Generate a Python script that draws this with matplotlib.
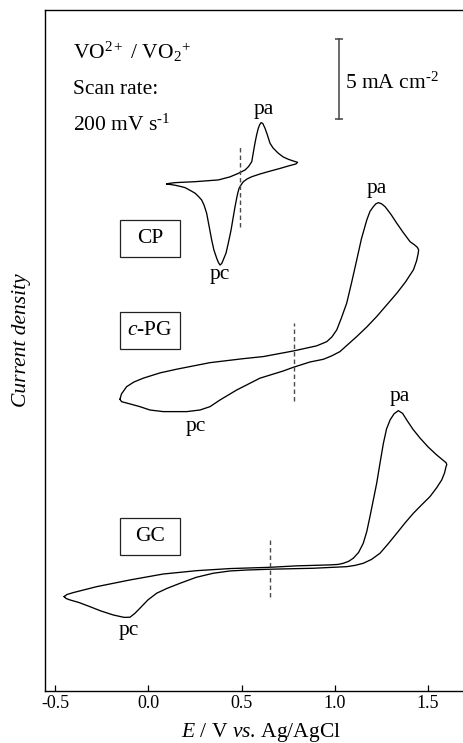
import numpy as np
import matplotlib
matplotlib.use("Agg")
import matplotlib.pyplot as plt
from matplotlib.patches import Rectangle

plt.rcParams["font.family"] = ["Liberation Serif", "DejaVu Serif"]
plt.rcParams["mathtext.fontset"] = "custom"
plt.rcParams["mathtext.rm"] = "Liberation Serif"
plt.rcParams["mathtext.it"] = "Liberation Serif:italic"
plt.rcParams["axes.unicode_minus"] = False

# ---- cyclic voltammograms (E in V vs Ag/AgCl, j in mA cm^-2) ----
# carbon paper (CP)
cp_E = [0.099, 0.116, 0.143, 0.251, 0.376, 0.438, 0.481, 0.519, 0.538, 0.555,
        0.563, 0.572, 0.581, 0.590, 0.597, 0.605, 0.614, 0.626, 0.637, 0.653,
        0.669, 0.697, 0.723, 0.751, 0.776, 0.801,
        0.792, 0.751, 0.707, 0.644, 0.599, 0.555, 0.530, 0.510, 0.497, 0.487,
        0.480, 0.474, 0.465, 0.456, 0.444, 0.429, 0.417, 0.402, 0.394, 0.385,
        0.376, 0.367, 0.352, 0.340, 0.326, 0.313, 0.299, 0.286, 0.269, 0.251,
        0.224, 0.197, 0.170, 0.143, 0.116, 0.099]
cp_j = [-0.06, -0.02, 0.02, 0.08, 0.19, 0.38, 0.59, 0.81, 1.03, 1.33,
        1.88, 2.48, 3.00, 3.42, 3.63, 3.77, 3.72, 3.42, 3.06, 2.48,
        2.19, 1.86, 1.63, 1.48, 1.38, 1.29,
        1.19, 1.06, 0.91, 0.71, 0.56, 0.39, 0.25, 0.08, -0.13, -0.33,
        -0.63, -0.96, -1.50, -2.11, -2.94, -3.77, -4.38, -4.81, -5.03, -5.13,
        -4.97, -4.71, -4.19, -3.56, -2.69, -1.89, -1.38, -1.06, -0.84, -0.64,
        -0.46, -0.29, -0.21, -0.14, -0.09, -0.06]

# compressed pyrolytic graphite (c-PG)
pg_E = [-0.152, -0.144, -0.116, -0.077, -0.027, 0.063, 0.152, 0.331, 0.510, 0.617,
        0.778, 0.903, 0.957, 0.985, 1.011, 1.036, 1.064, 1.090, 1.118, 1.143,
        1.172, 1.189, 1.207, 1.220, 1.234, 1.251, 1.270, 1.302, 1.333, 1.367,
        1.404, 1.428, 1.443, 1.450,
        1.448, 1.439, 1.422, 1.380, 1.333, 1.279, 1.225, 1.172, 1.118, 1.071,
        1.028, 0.983, 0.939, 0.867, 0.778, 0.724, 0.599, 0.474, 0.385, 0.331,
        0.277, 0.206, 0.080, 0.009, -0.045, -0.098, -0.143, -0.152]
pg_j = [-2.46, -2.13, -1.67, -1.38, -1.14, -0.81, -0.58, -0.17, 0.08, 0.21,
        0.56, 0.88, 1.14, 1.44, 1.88, 2.63, 3.54, 4.81, 6.25, 7.56,
        8.75, 9.28, 9.58, 9.75, 9.83, 9.76, 9.58, 9.09, 8.54, 7.97,
        7.39, 7.19, 7.04, 6.88,
        6.67, 6.19, 5.63, 4.88, 4.17, 3.44, 2.71, 2.06, 1.46, 0.97,
        0.52, 0.25, 0.04, -0.13, -0.46, -0.69, -1.14, -1.88, -2.50, -2.92,
        -3.13, -3.23, -3.23, -3.13, -2.92, -2.75, -2.61, -2.46]

# glassy carbon (GC)
gc_E = [-0.451, -0.436, -0.402, -0.277, -0.098, 0.080, 0.260, 0.438, 0.653, 0.796,
        0.975, 1.018, 1.046, 1.074, 1.100, 1.128, 1.153, 1.172, 1.189, 1.207,
        1.225, 1.243, 1.261, 1.278, 1.297, 1.318, 1.341, 1.364, 1.386, 1.420,
        1.458, 1.501, 1.547, 1.576, 1.597, 1.601,
        1.597, 1.589, 1.574, 1.546, 1.511, 1.466, 1.422, 1.377, 1.333, 1.286,
        1.243, 1.197, 1.153, 1.109, 1.064, 0.885, 0.653, 0.528, 0.438, 0.349,
        0.256, 0.170, 0.100, 0.045, -0.002, -0.045, -0.072, -0.098, -0.130, -0.188,
        -0.254, -0.313, -0.372, -0.420, -0.441, -0.451]
gc_j = [-1.79, -1.66, -1.54, -1.17, -0.75, -0.38, -0.17, -0.04, 0.04, 0.13,
        0.19, 0.22, 0.29, 0.41, 0.61, 0.97, 1.54, 2.28, 3.21, 4.25,
        5.29, 6.56, 7.79, 8.69, 9.25, 9.63, 9.83, 9.66, 9.25, 8.66,
        8.11, 7.56, 7.06, 6.78, 6.58, 6.46,
        6.33, 5.94, 5.50, 5.00, 4.46, 3.94, 3.42, 2.81, 2.17, 1.50,
        0.92, 0.53, 0.29, 0.16, 0.08, -0.02, -0.08, -0.13, -0.19, -0.33,
        -0.59, -0.96, -1.28, -1.58, -2.00, -2.52, -2.84, -3.08, -3.09, -2.94,
        -2.69, -2.42, -2.16, -2.00, -1.91, -1.79]

# formal potentials marked by dashed lines (V) and their vertical extents (mA cm^-2)
cp_E0, cp_span = 0.491, (-2.73, 2.38)
pg_E0, pg_span = 0.782, (-2.56, 2.29)
gc_E0, gc_span = 0.653, (-1.81, 1.94)

# vertical stacking offsets (mA cm^-2)
cp_off, pg_off, gc_off = 31.72, 20.66, 7.66

scale_bar = 5.0  # mA cm^-2

xticks = [-0.5, 0.0, 0.5, 1.0, 1.5]
xticklabels = ["-0.5", "0.0", "0.5", "1.0", "1.5"]

W, H = 463, 743
fig = plt.figure(figsize=(W / 100, H / 100), dpi=100)
ax = fig.add_axes([45 / W, (H - 690.5) / H, 418 / W, 680.5 / H])
ax.set_xlim(-0.554, 1.688)
ax.set_ylim(0, 42.53)

lw = 0.95
for E, j, off in [(cp_E, cp_j, cp_off), (pg_E, pg_j, pg_off), (gc_E, gc_j, gc_off)]:
    ax.plot(E, np.asarray(j) + off, color="black", lw=lw,
            solid_joinstyle="round", antialiased=True)

dash_col = "#4a4a4a"
for E0, (lo, hi), off in [(cp_E0, cp_span, cp_off), (pg_E0, pg_span, pg_off),
                          (gc_E0, gc_span, gc_off)]:
    ax.plot([E0, E0], [lo + off, hi + off], color=dash_col, lw=1.0,
            dashes=(3.2, 2.2))

# scale bar
sb_E, sb_y0 = 1.025, 35.72
ax.plot([sb_E, sb_E], [sb_y0, sb_y0 + scale_bar], color="#444444", lw=1.1)
ax.plot([sb_E, sb_E], [sb_y0, sb_y0 + scale_bar], ls="none", marker="_",
        ms=6, mew=1.1, color="#444444")

fs = 15.5
ax.text((345 - 45) / 418, 0.8835, "5 mA cm$^{\\text{-}2}$", transform=ax.transAxes,
        fontsize=fs, va="baseline", ha="left")
ax.text(0.067, 0.929, "VO$^{2+}$ / VO$_2$$^{+}$", transform=ax.transAxes,
        fontsize=fs, va="baseline", ha="left")
ax.text(0.067, 0.876, "Scan rate:", transform=ax.transAxes,
        fontsize=fs, va="baseline", ha="left")
ax.text(0.067, 0.822, "200 mV s$^{\\text{-}1}$", transform=ax.transAxes,
        fontsize=fs, va="baseline", ha="left")

# peak labels
peak_labels = [
    ("pa", 0.617, 36.02), ("pc", 0.381, 25.71),
    ("pa", 1.225, 31.12), ("pc", 0.256, 16.23),
    ("pa", 1.350, 18.11), ("pc", -0.107, 3.46),
]
for t, x, y in peak_labels:
    ax.text(x, y, t, fontsize=fs, ha="center", va="baseline")

# electrode name boxes
for name, y0 in [("CP", 0.6366), ("$c$-PG", 0.5018), ("GC", 0.1987)]:
    ax.add_patch(Rectangle((0.1794, y0), 0.1435, 0.0548, transform=ax.transAxes,
                           fill=False, ec="#222222", lw=0.9))
    ax.text(0.1794 + 0.1435 / 2, y0 + 0.0548 / 2, name, transform=ax.transAxes,
            fontsize=fs, ha="center", va="center")

# axes styling
for s in ["left", "bottom", "top"]:
    ax.spines[s].set_linewidth(1.0)
ax.spines["right"].set_visible(False)
ax.set_yticks([])
ax.set_xticks(xticks)
ax.set_xticklabels(xticklabels)
ax.tick_params(axis="x", direction="in", length=4, width=0.9, pad=3.5,
               labelsize=13, top=False)

fig.text(261 / W, (H - 737.5) / H, "$E$ / V $vs$. Ag/AgCl", fontsize=fs,
         ha="center", va="baseline")
fig.text(22 / W, 1 - 340 / H, "Current density", fontsize=fs, style="italic",
         rotation=90, ha="center", va="center")

fig.savefig("out.png", dpi=100)
